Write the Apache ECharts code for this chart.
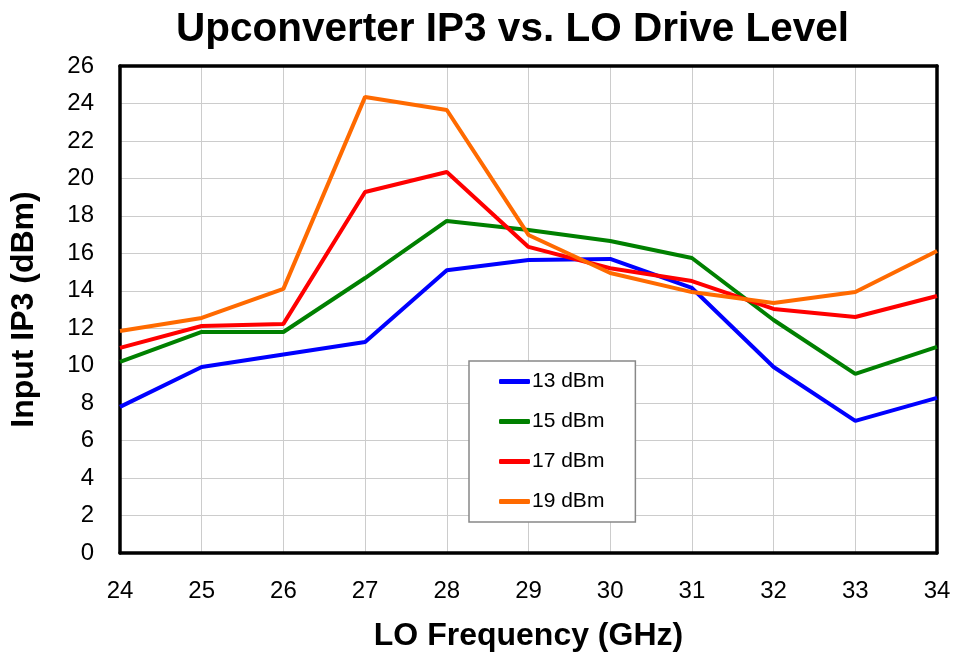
<!DOCTYPE html>
<html><head><meta charset="utf-8">
<script src="https://cdn.jsdelivr.net/npm/echarts@6/dist/echarts.min.js"></script>
<style>html,body{margin:0;padding:0;background:#fff}#c{width:959px;height:658px}</style>
</head><body><div id="c"></div>
<script>
const freqs = [24, 25, 26, 27, 28, 29, 30, 31, 32, 33, 34];
const s13 = [7.8, 9.93, 10.6, 11.27, 15.1, 15.64, 15.7, 14.15, 9.93, 7.05, 8.28];
const s15 = [10.2, 11.8, 11.8, 14.68, 17.73, 17.25, 16.66, 15.75, 12.44, 9.56, 11.0];
const s17 = [10.95, 12.12, 12.23, 19.27, 20.34, 16.34, 15.2, 14.52, 13.03, 12.6, 13.72];
const s19 = [11.85, 12.55, 14.1, 24.35, 23.65, 16.98, 14.95, 13.93, 13.35, 13.93, 16.12];
const seriesNames = ['13 dBm', '15 dBm', '17 dBm', '19 dBm'];
const seriesColors = ['#0000FF', '#008000', '#FF0000', '#FF6A00'];
const seriesData = [s13, s15, s17, s19];

const chart = echarts.init(document.getElementById('c'));
const font = 'Liberation Sans, Arial, sans-serif';
chart.setOption({
  animation: false,
  backgroundColor: '#fff',
  title: {
    text: 'Upconverter IP3 vs. LO Drive Level',
    left: 171, top: 4,
    textStyle: { fontFamily: font, fontSize: 40.5, fontWeight: 'bold', color: '#000' }
  },
  grid: { left: 120, top: 66, width: 817, height: 487, containLabel: false },
  legend: {
    orient: 'vertical',
    left: 469, top: 361,
    backgroundColor: '#fff',
    borderColor: '#888', borderWidth: 1.5,
    padding: [10, 31, 10, 30],
    itemGap: 19,
    itemWidth: 31, itemHeight: 5,
    icon: 'roundRect',
    textStyle: { fontFamily: font, fontSize: 21, lineHeight: 20, color: '#000', padding: [0,0,0,-3] },
    data: seriesNames
  },
  xAxis: [{
    type: 'value', min: 24, max: 34, interval: 1,
    name: 'LO Frequency (GHz)', nameLocation: 'middle', nameGap: 67,
    nameTextStyle: { fontFamily: font, fontSize: 32, fontWeight: 'bold', color: '#000' },
    axisLine: { show: true, onZero: false, lineStyle: { color: '#000', width: 3.5 } },
    axisTick: { show: false },
    axisLabel: { fontFamily: font, fontSize: 24, color: '#000', margin: 26 },
    splitLine: { show: true, lineStyle: { color: '#cccccc', width: 1 } }
  }, {
    type: 'value', min: 24, max: 34, position: 'top',
    axisLine: { show: true, onZero: false, lineStyle: { color: '#000', width: 3.5 } },
    axisTick: { show: false }, axisLabel: { show: false }, splitLine: { show: false }
  }],
  yAxis: [{
    type: 'value', min: 0, max: 26, interval: 2,
    name: 'Input IP3 (dBm)', nameLocation: 'middle', nameGap: 80,
    nameTextStyle: { fontFamily: font, fontSize: 32, fontWeight: 'bold', color: '#000' },
    axisLine: { show: true, onZero: false, lineStyle: { color: '#000', width: 3.5 } },
    axisTick: { show: false },
    axisLabel: { fontFamily: font, fontSize: 24, color: '#000', margin: 26 },
    splitLine: { show: true, lineStyle: { color: '#cccccc', width: 1 } }
  }, {
    type: 'value', min: 0, max: 26, position: 'right',
    axisLine: { show: true, onZero: false, lineStyle: { color: '#000', width: 3.5 } },
    axisTick: { show: false }, axisLabel: { show: false }, splitLine: { show: false }
  }],
  series: seriesNames.map((n, i) => ({
    name: n, type: 'line', symbol: 'none',
    xAxisIndex: 0, yAxisIndex: 0,
    data: freqs.map((f, j) => [f, seriesData[i][j]]),
    lineStyle: { color: seriesColors[i], width: 4 },
    itemStyle: { color: seriesColors[i] },
    z: 3
  }))
});
</script></body></html>
